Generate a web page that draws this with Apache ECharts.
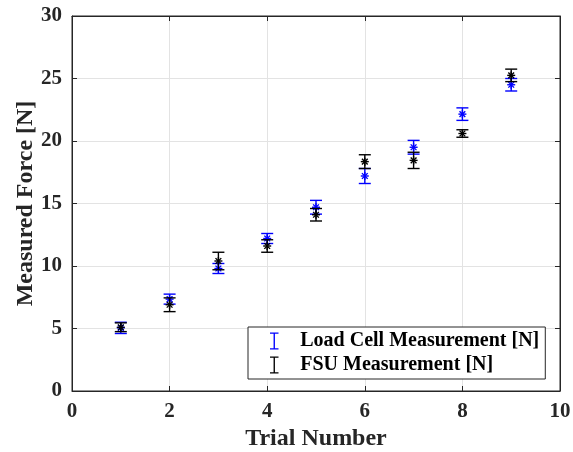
<!DOCTYPE html>
<html>
<head>
<meta charset="utf-8">
<script src="https://cdn.jsdelivr.net/npm/echarts@6/dist/echarts.min.js"></script>
<style>
  html, body { margin: 0; padding: 0; background: #fff; }
  #chart { width: 573px; height: 452px; }
</style>
</head>
<body>
<div id="chart"></div>
<script>
// Trial numbers and the two measurement sets (mean and half-range of error bar)
const trials = [1, 2, 3, 4, 5, 6, 7, 8, 9];
const loadCellMean = [5.05, 7.35, 9.8, 12.2, 14.7, 17.2, 19.5, 22.15, 24.5];
const loadCellErr  = [0.45, 0.4, 0.4, 0.4, 0.55, 0.6, 0.55, 0.5, 0.5];
const fsuMean = [5.1, 6.9, 10.4, 11.6, 14.1, 18.35, 18.45, 20.6, 25.25];
const fsuErr  = [0.35, 0.55, 0.7, 0.5, 0.5, 0.55, 0.65, 0.3, 0.5];
const xTicks = [0, 2, 4, 6, 8, 10];
const yTicks = [0, 5, 10, 15, 20, 25, 30];

const FONT = '"Liberation Serif", "Times New Roman", serif';
const AXIS_COLOR = '#262626';
const BLUE = '#0000ff';
const BLACK = '#000000';
const ICON = 'path://M0,0 H10 V1.6 H5.8 V18.4 H10 V20 H0 V18.4 H4.2 V1.6 H0 Z';

function rows(means, errs) {
  return trials.map((t, i) => [t, means[i], means[i] - errs[i], means[i] + errs[i]]);
}

// Error bar with caps plus an asterisk marker at the mean
function errorBarRenderer(color) {
  return function (params, api) {
    const x = api.value(0);
    const c = api.coord([x, api.value(1)]);
    const lo = api.coord([x, api.value(2)]);
    const hi = api.coord([x, api.value(3)]);
    const cap = 6;
    const m = 4;
    const d = m * 0.72;
    const st = { stroke: color, lineWidth: 1.4 };
    const line = (x1, y1, x2, y2) => ({ type: 'line', shape: { x1, y1, x2, y2 }, style: st });
    return {
      type: 'group',
      children: [
        line(lo[0], lo[1], hi[0], hi[1]),
        line(lo[0] - cap, lo[1], lo[0] + cap, lo[1]),
        line(hi[0] - cap, hi[1], hi[0] + cap, hi[1]),
        line(c[0] - m, c[1], c[0] + m, c[1]),
        line(c[0], c[1] - m, c[0], c[1] + m),
        line(c[0] - d, c[1] - d, c[0] + d, c[1] + d),
        line(c[0] - d, c[1] + d, c[0] + d, c[1] - d)
      ]
    };
  };
}

const chart = echarts.init(document.getElementById('chart'), null, { renderer: 'canvas' });

const axisBase = {
  axisLine: { show: true, onZero: false, lineStyle: { color: AXIS_COLOR, width: 1 } },
  axisTick: { show: true, inside: true, length: 5, lineStyle: { color: AXIS_COLOR } },
  splitLine: { show: true, lineStyle: { color: '#e3e3e3', width: 1 } },
  axisLabel: { fontFamily: FONT, fontWeight: 'bold', fontSize: 21, color: AXIS_COLOR },
  nameTextStyle: { fontFamily: FONT, fontWeight: 'bold', fontSize: 24, color: AXIS_COLOR }
};

chart.setOption({
  animation: false,
  backgroundColor: '#ffffff',
  grid: {
    left: 72, right: 13, top: 16, bottom: 61,
    containLabel: false, outerBoundsMode: 'none',
    show: true, borderColor: AXIS_COLOR, borderWidth: 1
  },
  xAxis: [
    Object.assign({}, axisBase, {
      type: 'value', min: xTicks[0], max: xTicks[xTicks.length - 1], interval: 2,
      name: 'Trial Number', nameLocation: 'middle', nameGap: 36, nameMoveOverlap: false,
      axisLabel: Object.assign({}, axisBase.axisLabel, { margin: 10 })
    }),
    Object.assign({}, axisBase, {
      type: 'value', position: 'top', min: 0, max: 10, interval: 2,
      axisLabel: { show: false }, splitLine: { show: false }
    })
  ],
  yAxis: [
    Object.assign({}, axisBase, {
      type: 'value', min: yTicks[0], max: yTicks[yTicks.length - 1], interval: 5,
      name: 'Measured Force [N]', nameLocation: 'middle', nameGap: 34, nameMoveOverlap: false,
      axisLabel: Object.assign({}, axisBase.axisLabel, { margin: 10 })
    }),
    Object.assign({}, axisBase, {
      type: 'value', position: 'right', min: 0, max: 30, interval: 5,
      axisLabel: { show: false }, splitLine: { show: false }
    })
  ],
  legend: {
    orient: 'vertical',
    left: 248, top: 327,
    backgroundColor: '#ffffff',
    borderColor: AXIS_COLOR, borderWidth: 1,
    padding: [4, 6, 4, 22],
    itemWidth: 10, itemHeight: 17, itemGap: 4,
    textStyle: { fontFamily: FONT, fontWeight: 'bold', fontSize: 20, color: '#000', padding: [0, 0, 0, 16] },
    data: [
      { name: 'Load Cell Measurement [N]', icon: ICON, itemStyle: { color: BLUE } },
      { name: 'FSU Measurement [N]', icon: ICON, itemStyle: { color: BLACK } }
    ]
  },
  series: [
    {
      name: 'Load Cell Measurement [N]', type: 'custom',
      itemStyle: { color: BLUE },
      renderItem: errorBarRenderer(BLUE),
      encode: { x: 0, y: [1, 2, 3] },
      data: rows(loadCellMean, loadCellErr), z: 3
    },
    {
      name: 'FSU Measurement [N]', type: 'custom',
      itemStyle: { color: BLACK },
      renderItem: errorBarRenderer(BLACK),
      encode: { x: 0, y: [1, 2, 3] },
      data: rows(fsuMean, fsuErr), z: 4
    }
  ]
});
</script>
</body>
</html>
